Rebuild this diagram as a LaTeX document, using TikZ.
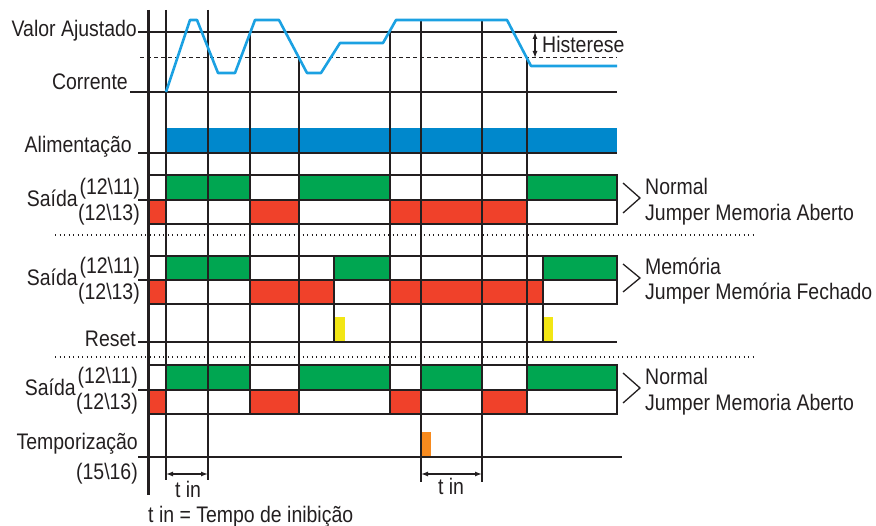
\documentclass[tikz,border=0pt]{standalone}
\usepackage{fontspec}
\setmainfont{Liberation Sans}[FakeStretch=0.865]
\usetikzlibrary{arrows.meta}
\definecolor{curveblue}{RGB}{27,161,226}
\definecolor{barblue}{RGB}{0,136,204}
\definecolor{ongreen}{RGB}{0,166,81}
\definecolor{offred}{RGB}{240,65,42}
\definecolor{pulseyellow}{RGB}{242,230,20}
\definecolor{pulseorange}{RGB}{247,138,30}
\definecolor{ink}{RGB}{35,31,32}
\begin{document}
\begin{tikzpicture}[x=1pt,y=-1pt,
  txt/.style={font=\fontsize{22.5}{25}\selectfont, inner sep=0pt, text=ink},
  tline/.style={draw=ink, line width=1.5pt},
  hline/.style={draw=ink, line width=2pt},
  boxline/.style={draw=ink, line width=2.6pt},
  axisline/.style={draw=ink, line width=3pt},
  sepdots/.style={draw=ink, line width=1.3pt, dash pattern=on 1.3pt off 3.2pt},
  hystdash/.style={draw=ink, line width=1pt, dash pattern=on 4pt off 3pt},
  tip/.style={{Latex[length=7pt,width=5pt]}-{Latex[length=7pt,width=5pt]}, draw=ink, line width=1.3pt},
  chev/.style={draw=ink, line width=1.3pt}
]
\useasboundingbox (0,0) rectangle (876,526);

% ---- fills ----
\fill[barblue] (166,128) rectangle (617,153);
% section 1
\fill[ongreen] (166,175) rectangle (250,200);
\fill[ongreen] (299,175) rectangle (390,200);
\fill[ongreen] (527,175) rectangle (617,200);
\fill[offred] (148,200) rectangle (166,224);
\fill[offred] (250,200) rectangle (299,224);
\fill[offred] (390,200) rectangle (527,224);
% memory section
\fill[ongreen] (166,256) rectangle (250,280);
\fill[ongreen] (334,256) rectangle (390,280);
\fill[ongreen] (543,256) rectangle (617,280);
\fill[offred] (148,280) rectangle (166,304);
\fill[offred] (250,280) rectangle (334,304);
\fill[offred] (390,280) rectangle (543,304);
\fill[pulseyellow] (334,317) rectangle (345,342);
\fill[pulseyellow] (543,317) rectangle (553,342);
% section 3
\fill[ongreen] (166,365) rectangle (250,390);
\fill[ongreen] (299,365) rectangle (390,390);
\fill[ongreen] (421,365) rectangle (482,390);
\fill[ongreen] (527,365) rectangle (617,390);
\fill[offred] (148,390) rectangle (166,414);
\fill[offred] (250,390) rectangle (299,414);
\fill[offred] (390,390) rectangle (421,414);
\fill[offred] (482,390) rectangle (527,414);
\fill[pulseorange] (421,432) rectangle (431,457);

% ---- time lines ----
\draw[tline] (166,10) -- (166,480);
\draw[tline] (208,10) -- (208,480);
\draw[tline] (250,32) -- (250,414);
\draw[tline] (299,58) -- (299,414);
\draw[tline] (390,32) -- (390,414);
\draw[tline] (421,20) -- (421,482);
\draw[tline] (482,20) -- (482,482);
\draw[tline] (527,58) -- (527,414);
\draw[tline] (334,256) -- (334,342);
\draw[tline] (543,256) -- (543,342);

% ---- level lines ----
\draw[hline] (138,32) -- (617,32);
\draw[hystdash] (140,58) -- (617,58);
\draw[hline] (130,92) -- (617,92);
\draw[hline] (138,153) -- (617,153);
\draw[hline] (138,342) -- (617,342);
\draw[hline] (138,457) -- (622,457);

% ---- output boxes ----
\foreach \t/\m/\b in {175/200/224, 256/280/304, 365/390/414}{
  \draw[boxline] (148,\t) rectangle (617,\b);
  \draw[boxline] (138,\m) -- (617,\m);
}

% separators
\draw[sepdots] (55,235) -- (753,235);
\draw[sepdots] (55,357) -- (753,357);

% axis
\draw[axisline] (148,10) -- (148,495);

% current curve
\draw[curveblue, line width=2.6pt, line join=round]
  (166,92) -- (190,20) -- (197,20) -- (218,73) -- (235,73) -- (255,20)
  -- (279,20) -- (307,73) -- (321,73) -- (340,43) -- (383,43) -- (396,20)
  -- (507,20) -- (531,66) -- (617,66);

% hysteresis arrow
\coordinate (hA) at (535,32);
\coordinate (hB) at (535,58);
\draw[tip] (hA) -- (hB);
\node[txt, anchor=base west] (hist) at (542,53) {Histerese};

% t in arrows
\coordinate (t1a) at (166,474);
\coordinate (t1b) at (208,474);
\coordinate (t2a) at (421,474);
\coordinate (t2b) at (482,474);
\draw[tip] (t1a) -- (t1b);
\draw[tip] (t2a) -- (t2b);
\node[txt, anchor=base] (tin1) at (188,498) {t in};
\node[txt, anchor=base] (tin2) at (451,495) {t in};
\node[txt, anchor=base west] (tinleg) at (148,522) {t in = Tempo de inibição};

% left labels
\node[txt, anchor=base east] (valor) at (137,37) {Valor Ajustado};
\node[txt, anchor=base east] (corr) at (128,90) {Corrente};
\node[txt, anchor=base east] (alim) at (132,153) {Alimentação};

\node[txt, anchor=base east] (s1) at (78,207) {Saída};
\node[txt, anchor=base east] (s1a) at (140,195) {(12\textbackslash 11)};
\node[txt, anchor=base east] (s1b) at (140,221) {(12\textbackslash 13)};

\node[txt, anchor=base east] (s2) at (78,286) {Saída};
\node[txt, anchor=base east] (s2a) at (140,274) {(12\textbackslash 11)};
\node[txt, anchor=base east] (s2b) at (140,300) {(12\textbackslash 13)};
\node[txt, anchor=base east] (reset) at (136,347) {Reset};

\node[txt, anchor=base east] (s3) at (76,396) {Saída};
\node[txt, anchor=base east] (s3a) at (138,384) {(12\textbackslash 11)};
\node[txt, anchor=base east] (s3b) at (138,410) {(12\textbackslash 13)};
\node[txt, anchor=base east] (temp) at (138,450) {Temporização};
\node[txt, anchor=base east] (temp2) at (138,479) {(15\textbackslash 16)};

% right labels with chevrons
\draw[chev] (623,183) -- (640,198) -- (623,213);
\node[txt, anchor=base west] (r1a) at (645,195) {Normal};
\node[txt, anchor=base west] (r1b) at (645,221) {Jumper Memoria Aberto};

\draw[chev] (623,264) -- (640,278) -- (623,292);
\node[txt, anchor=base west] (r2a) at (645,275) {Memória};
\node[txt, anchor=base west] (r2b) at (645,300) {Jumper Memória Fechado};

\draw[chev] (623,373) -- (640,388) -- (623,403);
\node[txt, anchor=base west] (r3a) at (645,385) {Normal};
\node[txt, anchor=base west] (r3b) at (645,411) {Jumper Memoria Aberto};
\end{tikzpicture}
\end{document}
